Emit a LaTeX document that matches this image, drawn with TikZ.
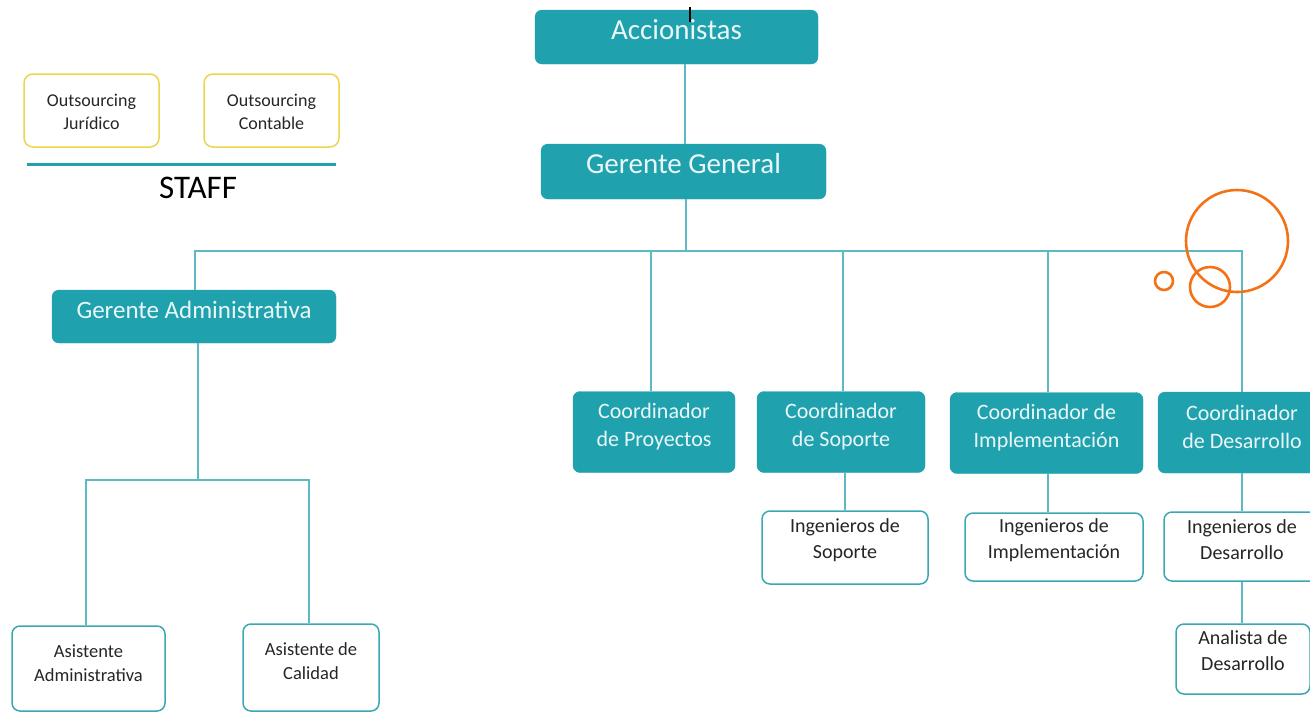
\documentclass[tikz,border=0pt]{standalone}
\usepackage{fontspec}
\setmainfont{Carlito}
\definecolor{tealbox}{HTML}{20A1AE}
\definecolor{tealline}{HTML}{5DB9C2}
\definecolor{tealborder}{HTML}{3AA8B2}
\definecolor{yellowborder}{HTML}{F0D34E}
\definecolor{orangec}{HTML}{F47216}
\definecolor{darktext}{HTML}{262626}
\definecolor{lighttext}{HTML}{EAF7F8}
\tikzset{
  tealnode/.style={fill=tealbox, draw=tealbox, rounded corners=7pt, inner sep=0pt},
  whitenode/.style={fill=white, draw=tealborder, line width=1.5pt, rounded corners=8pt, inner sep=0pt},
  staffnode/.style={fill=white, draw=yellowborder, line width=1.5pt, rounded corners=9pt, inner sep=0pt, minimum width=135pt, minimum height=73pt},
  coordnode/.style={tealnode, minimum height=81pt},
  lt/.style={text=lighttext, align=center, inner sep=0pt},
  dt/.style={text=darktext, align=center, inner sep=0pt},
  conn/.style={draw=tealline, line width=1.8pt},
  ring/.style={draw=orangec, line width=2.6pt}
}
\begin{document}
\begin{tikzpicture}[x=1pt,y=-1pt]
\useasboundingbox (0,0) rectangle (1310,713);
% top
\node[tealnode, minimum width=283pt, minimum height=54pt] (acc) at (676.5,37) {};
\node[lt, font=\fontsize{29}{34}\selectfont] (acct) at ([yshift=7pt]acc.center) {Accionistas};
\node[tealnode, minimum width=285pt, minimum height=55pt] (gg) at (683.5,171.5) {};
\node[lt, font=\fontsize{29}{34}\selectfont] (ggt) at ([yshift=8pt]gg.center) {Gerente General};
\node[tealnode, minimum width=284pt, minimum height=53pt] (ga) at (194,316.5) {};
\node[lt, font=\fontsize{25}{30}\selectfont] (gat) at ([yshift=7pt]ga.center) {Gerente Administrativa};
% coordinators
\node[coordnode, minimum width=162pt] (cp) at (654,432) {};
\node[coordnode, minimum width=168pt] (cs) at (841,432) {};
\node[coordnode, minimum width=193pt] (ci) at (1046.5,433) {};
\node[coordnode, minimum width=168pt] (cd) at (1242,432.5) {};
\node[lt, font=\fontsize{22}{28}\selectfont] (cpt) at ([yshift=5pt]cp.center) {Coordinador\\de Proyectos};
\node[lt, font=\fontsize{22}{28}\selectfont] (cst) at ([yshift=5pt]cs.center) {Coordinador\\de Soporte};
\node[lt, font=\fontsize{22}{28}\selectfont] (cit) at ([yshift=5pt]ci.center) {Coordinador de\\Implementación};
\node[lt, font=\fontsize{22}{28}\selectfont] (cdt) at ([yshift=6pt]cd.center) {Coordinador\\de Desarrollo};
% white boxes
\node[whitenode, minimum width=166pt, minimum height=73pt] (is) at (845,547.5) {};
\node[whitenode, minimum width=178pt, minimum height=68pt] (ii) at (1054,547) {};
\node[whitenode, minimum width=156pt, minimum height=69pt] (id) at (1242,546.5) {};
\node[whitenode, minimum width=134pt, minimum height=70pt] (ad) at (1243,659) {};
\node[whitenode, minimum width=153pt, minimum height=85pt] (asa) at (88.5,668.5) {};
\node[whitenode, minimum width=136pt, minimum height=87pt] (asc) at (311,667.5) {};
\node[dt, font=\fontsize{20}{26}\selectfont] (ist) at ([yshift=7pt]is.center) {Ingenieros de\\Soporte};
\node[dt, font=\fontsize{20}{26}\selectfont] (iit) at ([yshift=7pt]ii.center) {Ingenieros de\\Implementación};
\node[dt, font=\fontsize{20}{26}\selectfont] (idt) at ([yshift=7pt]id.center) {Ingenieros de\\Desarrollo};
\node[dt, font=\fontsize{20}{26}\selectfont] (adt) at ([yshift=8pt]ad.center) {Analista de\\Desarrollo};
\node[dt, font=\fontsize{18.5}{24}\selectfont] (asat) at ([yshift=5pt]asa.center) {Asistente\\Administrativa};
\node[dt, font=\fontsize{18.5}{24}\selectfont] (asct) at ([yshift=6pt]asc.center) {Asistente de\\Calidad};
% staff
\node[staffnode] (oj) at (91.5,110.5) {};
\node[staffnode] (oc) at (271.5,110.5) {};
\node[dt, font=\fontsize{18}{23}\selectfont] (ojt) at ([yshift=-1pt]oj.center) {Outsourcing\\Jurídico};
\node[dt, font=\fontsize{18}{23}\selectfont] (oct) at ([yshift=-1pt]oc.center) {Outsourcing\\Contable};
\coordinate (sl) at (27,164);
\coordinate (sr) at (336,164);
\draw[draw=tealbox, line width=3pt] (sl) -- (sr);
\node[text=black, font=\fontsize{33}{38}\selectfont, inner sep=0pt] (staff) at (198,188) {STAFF};
% cursor mark
\coordinate (cur1) at (690,7);
\coordinate (cur2) at (690,22);
\draw[black, line width=1.6pt] (cur1) -- (cur2);
% connectors
\draw[conn] (acc.south -| 685,0) -- (gg.north -| 685,0);
\coordinate (busc) at (686,251);
\draw[conn] (gg.south -| busc) -- (busc);
\draw[conn] (ga.north -| 195,0) |- (cd.north |- busc) -- (cd.north);
\draw[conn] (cp.north -| 651,0) -- (651,251);
\draw[conn] (cs.north -| 843,0) -- (843,251);
\draw[conn] (ci.north -| 1048,0) -- (1048,251);
\coordinate (abus) at (198,480);
\draw[conn] (ga.south -| abus) -- (abus);
\draw[conn] (asa.north -| 86,0) |- (abus) -| (asc.north -| 309,0);
\draw[conn] (cs.south -| 845,0) -- (is.north -| 845,0);
\draw[conn] (ci.south -| 1048,0) -- (ii.north -| 1048,0);
\draw[conn] (cd.south -| 1242,0) -- (id.north -| 1242,0);
\draw[conn] (id.south -| 1242,0) -- (ad.north -| 1242,0);
% decoration circles
\node[ring, circle, minimum size=102pt, inner sep=0pt] (c1) at (1237,241) {};
\node[ring, circle, minimum size=40pt, inner sep=0pt] (c2) at (1210,287) {};
\node[ring, circle, minimum size=18pt, inner sep=0pt] (c3) at (1164,281) {};
\end{tikzpicture}
\end{document}
